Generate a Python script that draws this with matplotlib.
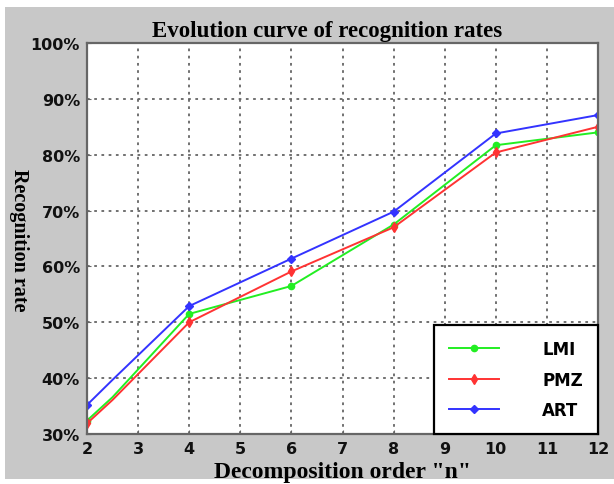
import matplotlib
matplotlib.use("Agg")
import matplotlib.pyplot as plt
from matplotlib.patches import Rectangle
from matplotlib.ticker import PercentFormatter

# decomposition order n (2.5 is an extra sample visible on the curves)
orders = [2, 2.5, 4, 6, 8, 10, 12]
lmi = [32.4, 36.6, 51.5, 56.5, 67.5, 81.7, 84.0]
pmz = [31.9, 36.1, 50.0, 59.1, 67.0, 80.4, 85.0]
art = [35.2, 39.7, 52.9, 61.4, 69.8, 83.8, 87.1]

x_ticks = list(range(2, 13))
y_ticks = [30, 40, 50, 60, 70, 80, 90, 100]
marks = [0, 2, 3, 4, 5, 6]

fig = plt.figure(figsize=(6.14, 4.85), dpi=100, facecolor="white")
# grey window background like the original screenshot
fig.patches.append(Rectangle((5 / 614, 5 / 485), 1, (485 - 13) / 485,
                             transform=fig.transFigure, facecolor="#c8c8c8",
                             edgecolor="none", zorder=-10))

ax = fig.add_axes([87 / 614, 1 - 435 / 485, (598 - 87) / 614, (435 - 44) / 485])
ax.set_facecolor("white")

ax.plot(orders, lmi, color="#22ee22", marker="o", ms=4.5, lw=1.4,
        markevery=marks, label="LMI")
ax.plot(orders, pmz, color="#ff3333", marker="d", ms=5, lw=1.4,
        markevery=marks, label="PMZ")
ax.plot(orders, art, color="#3333ff", marker="D", ms=4, lw=1.4,
        markevery=marks, label="ART")

ax.set_xlim(2, 12)
ax.set_ylim(30, 100)
ax.set_xticks(x_ticks)
ax.set_yticks(y_ticks)
ax.yaxis.set_major_formatter(PercentFormatter(decimals=0))
ax.grid(True, color="#666666", linestyle=(0, (1.5, 2.5)), linewidth=1.3)
for s in ax.spines.values():
    s.set_color("#666666")
    s.set_linewidth(1.6)
ax.tick_params(direction="in", length=3, color="#666666", pad=5)
for lab in ax.get_xticklabels() + ax.get_yticklabels():
    lab.set_fontweight("bold")
    lab.set_fontsize(11.5)
    lab.set_color("#111111")

ax.set_title("Evolution curve of recognition rates", family="Liberation Serif",
             fontweight="bold", fontsize=16.5, pad=5, x=0.47)
ax.set_xlabel('Decomposition order "n"', family="Liberation Serif",
              fontweight="bold", fontsize=17, labelpad=4)
fig.text(19 / 614, 1 - 240 / 485, "Recognition rate", family="Liberation Serif",
         fontweight="bold", fontsize=14.5, rotation=270, ha="center", va="center")

leg = ax.legend(loc="lower right", bbox_to_anchor=(1.0, 0.0), fancybox=False,
                edgecolor="black", framealpha=1, handlelength=3.0,
                handletextpad=2.6, labelspacing=0.75, borderpad=0.9,
                borderaxespad=0, prop={"weight": "bold", "size": 12})
leg.get_frame().set_linewidth(1.6)

fig.savefig("out.png", dpi=100)
